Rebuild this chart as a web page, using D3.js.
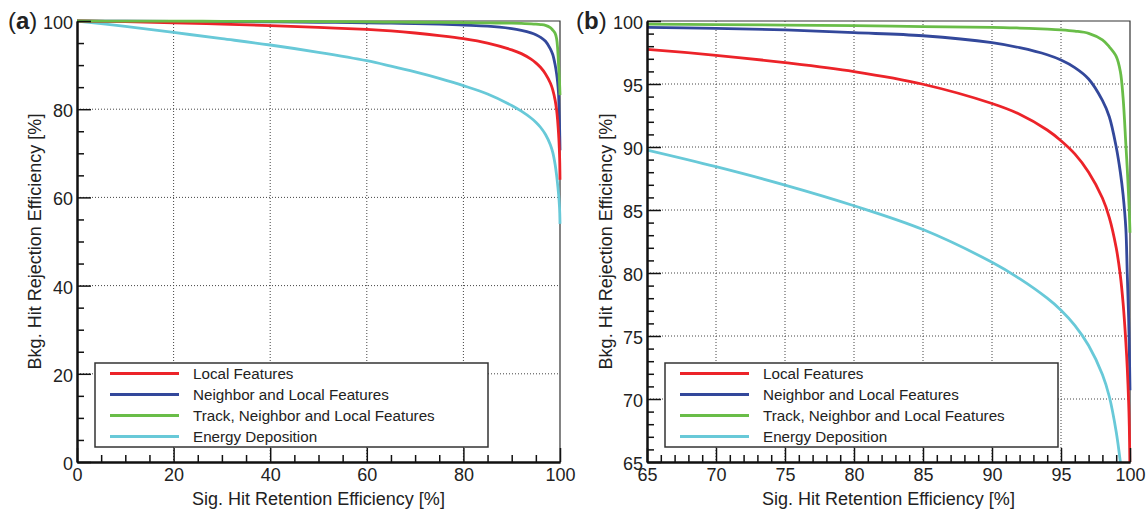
<!DOCTYPE html>
<html>
<head>
<meta charset="utf-8">
<script src="https://cdn.jsdelivr.net/npm/d3@7"></script>
<style>
  body { margin: 0; background: #fff; }
  svg { font-family: "Liberation Sans", Arial, sans-serif; }
  .grid { stroke: #444; stroke-width: 1; stroke-dasharray: 1,2; }
  .axis path, .axis line { stroke: #111; }
  .axis path { stroke-width: 2; }
  .axis line { stroke-width: 1.5; }
  .axis text { font-size: 18px; fill: #222; }
</style>
</head>
<body>
<div id="chart"></div>
<script>
// signal hit retention efficiency [%] (shared x values)
var sigEff = [0, 10, 20, 30, 40, 50, 60, 65, 70, 75, 80, 85, 90, 92, 94, 95, 96, 97, 98, 98.5, 99, 99.3, 99.5, 99.7, 99.8, 99.9, 99.95, 100];

// background hit rejection efficiency [%] per feature set
var localRej    = [100, 99.85, 99.6, 99.3, 98.95, 98.55, 98.1, 97.75, 97.28, 96.69, 95.98, 94.98, 93.45, 92.6, 91.35, 90.5, 89.45, 88.0, 85.95, 84.4, 82.0, 79.8, 77.6, 74.5, 72.5, 69.8, 67.8, 64];
var neighborRej = [100, 99.97, 99.93, 99.87, 99.8, 99.72, 99.6, 99.5, 99.42, 99.29, 99.07, 98.83, 98.28, 97.88, 97.32, 96.9, 96.3, 95.4, 93.7, 92.4, 90.0, 88.0, 86.2, 83.5, 80.0, 76.5, 74.0, 70.7];
var trackRej    = [100, 99.98, 99.96, 99.93, 99.9, 99.86, 99.8, 99.75, 99.72, 99.68, 99.63, 99.56, 99.5, 99.44, 99.36, 99.3, 99.2, 99.02, 98.5, 97.95, 97.2, 96.0, 93.9, 90.2, 88.3, 86.1, 84.8, 83.2];
var energyRej   = [100, 98.8, 97.4, 96.0, 94.56, 92.9, 91.0, 89.76, 88.44, 86.98, 85.34, 83.45, 80.85, 79.55, 78.0, 77.05, 75.85, 74.25, 71.95, 70.2, 67.4, 65.0, 63.0, 60.8, 59.5, 57.7, 56.4, 54.0];

var seriesNames  = ["Local Features", "Neighbor and Local Features", "Track, Neighbor and Local Features", "Energy Deposition"];
var seriesColors = ["#ec2329", "#33489b", "#69bd48", "#68c9d8"];
var seriesValues = [localRej, neighborRej, trackRej, energyRej];
// draw order: cyan, blue, red, green on top
var drawOrder = [3, 1, 0, 2];

var xTitle = "Sig. Hit Retention Efficiency [%]";
var yTitle = "Bkg. Hit Rejection Efficiency [%]";

var W = 1148, H = 512;

var svg = d3.select("#chart")
  .append("svg")
    .attr("width", W)
    .attr("height", H);

svg.append("rect").attr("width", W).attr("height", H).attr("fill", "#fff");

var panels = [
  {tag: "a", left: 77, right: 560, top: 21, bottom: 462, lo: 0, major: 20, minor: 5, tagX: 8, titleX: 41},
  {tag: "b", left: 647, right: 1130, top: 21, bottom: 462, lo: 65, major: 5, minor: 1, tagX: 576, titleX: 611.5}
];

panels.forEach(function(p, pi) {
  var x = d3.scaleLinear().domain([p.lo, 100]).range([p.left, p.right]);
  var y = d3.scaleLinear().domain([p.lo, 100]).range([p.bottom, p.top]);

  var majors = d3.range(p.lo, 100 + 1e-9, p.major);
  var minors = d3.range(p.lo, 100 + 1e-9, p.minor).filter(function(v) { return majors.indexOf(v) < 0; });
  var inner = majors.filter(function(v) { return v > p.lo && v < 100; });

  var g = svg.append("g");

  // dotted grid
  g.selectAll("gridX")
    .data(inner)
    .enter()
    .append("line")
      .attr("class", "grid")
      .attr("x1", function(d) { return x(d); })
      .attr("x2", function(d) { return x(d); })
      .attr("y1", p.top)
      .attr("y2", p.bottom);
  g.selectAll("gridY")
    .data(inner)
    .enter()
    .append("line")
      .attr("class", "grid")
      .attr("x1", p.left)
      .attr("x2", p.right)
      .attr("y1", function(d) { return y(d); })
      .attr("y2", function(d) { return y(d); });

  // thin top / right frame
  g.append("path")
    .attr("d", "M" + p.left + "," + p.top + "H" + p.right + "V" + p.bottom)
    .attr("fill", "none")
    .attr("stroke", "#333")
    .attr("stroke-width", 1.2);

  // curves
  var clipId = "clip" + pi;
  svg.append("clipPath").attr("id", clipId)
    .append("rect")
      .attr("x", p.left)
      .attr("y", p.top - 4)
      .attr("width", p.right - p.left + 4)
      .attr("height", p.bottom - p.top + 4);

  var line = d3.line()
    .x(function(d) { return x(d[0]); })
    .y(function(d) { return y(d[1]); })
    .curve(d3.curveCatmullRom.alpha(0.5));

  drawOrder.forEach(function(si) {
    var pts = sigEff.map(function(v, i) { return [v, seriesValues[si][i]]; });
    g.append("path")
      .datum(pts)
      .attr("clip-path", "url(#" + clipId + ")")
      .attr("fill", "none")
      .attr("stroke", seriesColors[si])
      .attr("stroke-width", 2.8)
      .attr("d", line);
  });

  // axes: major ticks with labels, minor ticks without
  g.append("g")
    .attr("class", "axis")
    .attr("transform", "translate(0," + p.bottom + ")")
    .call(d3.axisBottom(x).tickValues(minors).tickSize(-7).tickSizeOuter(0).tickFormat(""));
  g.append("g")
    .attr("class", "axis")
    .attr("transform", "translate(0," + p.bottom + ")")
    .call(d3.axisBottom(x).tickValues(majors).tickSize(-14).tickSizeOuter(0).tickPadding(6).tickFormat(d3.format("d")));

  g.append("g")
    .attr("class", "axis")
    .attr("transform", "translate(" + p.left + ",0)")
    .call(d3.axisLeft(y).tickValues(minors).tickSize(-7).tickSizeOuter(0).tickFormat(""));
  g.append("g")
    .attr("class", "axis")
    .attr("transform", "translate(" + p.left + ",0)")
    .call(d3.axisLeft(y).tickValues(majors).tickSize(-14).tickSizeOuter(0).tickPadding(4).tickFormat(d3.format("d")))
    .selectAll("text")
      .attr("dy", "0.42em");

  // axis titles
  g.append("text")
    .attr("x", (p.left + p.right) / 2)
    .attr("y", 505)
    .attr("text-anchor", "middle")
    .style("font-size", "18px")
    .style("fill", "#222")
    .text(xTitle);
  g.append("text")
    .attr("transform", "translate(" + p.titleX + "," + ((p.top + p.bottom) / 2) + ") rotate(-90)")
    .attr("text-anchor", "middle")
    .style("font-size", "18px")
    .style("fill", "#222")
    .text(yTitle);

  // panel tag
  var tag = g.append("text")
    .attr("x", p.tagX)
    .attr("y", 29)
    .style("font-size", "24px")
    .style("fill", "#222");
  tag.append("tspan").text("(");
  tag.append("tspan").style("font-weight", "bold").text(p.tag);
  tag.append("tspan").text(")");

  // legend
  var lx = p.left + 18, ly = p.top + 342;
  var leg = g.append("g").attr("transform", "translate(" + lx + "," + ly + ")");
  leg.append("rect")
    .attr("width", 393)
    .attr("height", 84)
    .attr("fill", "#fff")
    .attr("stroke", "#333")
    .attr("stroke-width", 1.5);
  seriesNames.forEach(function(name, i) {
    var ry = 10.5 + i * 21;
    leg.append("line")
      .attr("x1", 15).attr("x2", 84)
      .attr("y1", ry).attr("y2", ry)
      .attr("stroke", seriesColors[i])
      .attr("stroke-width", 3);
    leg.append("text")
      .attr("x", 98)
      .attr("y", ry)
      .attr("dy", "0.35em")
      .style("font-size", "15.2px")
      .style("fill", "#222")
      .text(name);
  });
});
</script>
</body>
</html>
